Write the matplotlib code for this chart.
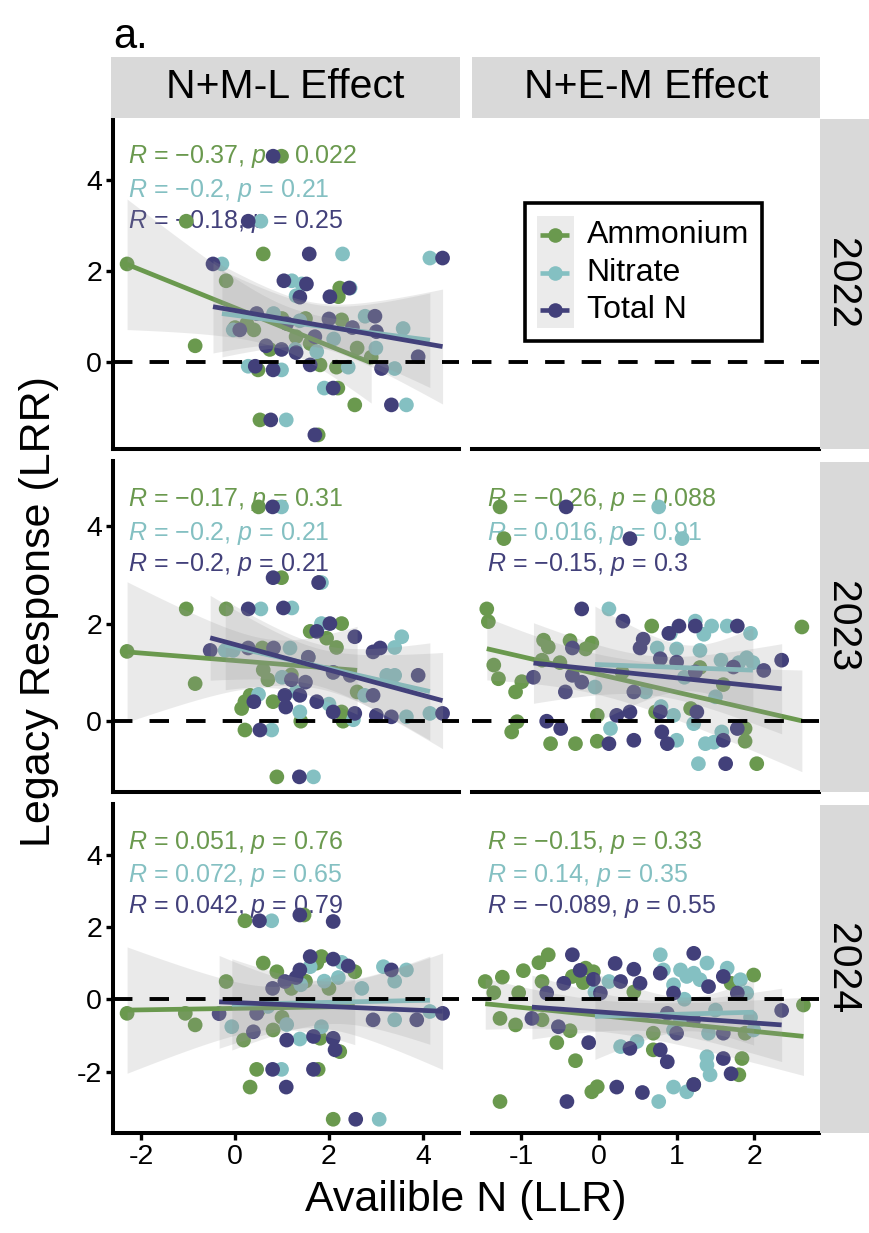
import matplotlib

matplotlib.use("Agg")
import matplotlib.pyplot as plt
import numpy as np
from matplotlib.lines import Line2D
from matplotlib.patches import Rectangle

plt.rcParams["font.family"] = ["Liberation Sans", "DejaVu Sans"]
plt.rcParams["mathtext.fontset"] = "custom"
plt.rcParams["mathtext.rm"] = "Liberation Sans"
plt.rcParams["mathtext.it"] = "Liberation Sans:italic"
plt.rcParams["axes.unicode_minus"] = False

# ---- data ----
SERIES = ["Ammonium", "Nitrate", "Total N"]
COLORS = ["#6a994e", "#84c0c2", "#42407a"]
EFFECTS = ["N+M-L Effect", "N+E-M Effect"]
YEARS = ["2022", "2023", "2024"]

# N+M-L, 2022
NML22_AMM_X = [-2.30, -1.04, -0.85, 0.99, 0.60, -0.19, 2.20, 2.23, 0.25, 2.27, 0.74, 0.49, 1.81,
               2.16, 2.19, 2.55, 0.53, 1.77, 0.00, 0.40, 1.30, 1.60, 1.00, 1.50, 2.90, 2.60]
NML22_AMM_Y = [2.15, 3.09, 0.35, 4.52, 2.37, 1.78, 1.43, 1.62, 0.84, 0.92, 0.27, -0.18, -0.07,
               -0.12, -0.58, -0.95, -1.28, -1.61, 0.75, 0.70, 0.55, 0.40, 0.95, 0.95, 0.10, 0.30]
NML22_NIT_X = [0.55, 2.29, -0.28, 4.15, 1.21, 1.42, 1.30, 2.45, 0.82, 1.38, 2.77, 3.58, -0.04,
               1.28, 1.74, 0.28, 0.99, 2.41, 3.40, 3.65, 1.09, 2.10, 3.00, 1.90]
NML22_NIT_Y = [3.09, 2.37, 2.15, 2.28, 1.78, 1.71, 1.45, 1.62, 1.06, 0.90, 1.00, 0.73, 0.70,
               0.27, 0.22, -0.10, -0.18, -0.12, -0.15, -0.95, -1.28, 0.50, 0.30, -0.58]
NML22_TOT_X = [0.28, 0.81, 1.58, -0.47, 4.42, 1.04, 1.52, 1.38, 2.02, 2.43, 0.46, 1.10, 2.98, 3.01,
               2.00, 2.50, 0.66, 0.99, 0.43, 0.81, 1.60, 3.12, 3.90, 2.09, 3.33, 0.76, 1.70, 0.10,
               1.70, 1.30]
NML22_TOT_Y = [3.09, 4.52, 2.37, 2.15, 2.28, 1.78, 1.71, 1.42, 1.43, 1.62, 1.06, 0.84, 1.00, 0.66,
               0.94, 0.75, 0.35, 0.27, -0.10, -0.18, -0.07, -0.15, 0.11, -0.58, -0.95, -1.28, -1.61,
               0.70, 0.55, 0.20]

# N+M-L, 2023
NML23_AMM_X = [-2.30, -1.04, -0.19, -0.85, 0.50, 0.99, 1.80, 2.27, 1.60, 1.95, 2.16, 0.58, 0.32,
               0.21, 0.14, 0.81, 2.27, 0.21, 0.89, 1.40, 2.30, 0.70, 1.20, 2.60, 0.60]
NML23_AMM_Y = [1.43, 2.30, 2.30, 0.77, 4.39, 2.94, 2.84, 2.00, 1.84, 1.70, 1.51, 1.50, 0.53,
               0.40, 0.26, 0.40, 0.19, -0.18, -1.14, 0.00, 0.00, 0.85, 0.95, 0.60, 1.05]
NML23_NIT_X = [0.55, 0.99, 1.84, 1.21, 1.84, 3.55, 3.40, -0.21, -0.04, 1.17, 1.56, 2.09, 3.23,
               3.40, 2.76, 1.38, 2.52, 3.65, 4.15, 0.78, 1.67, 1.00, 0.50, 1.30, 2.00]
NML23_NIT_Y = [2.30, 4.39, 2.84, 2.32, 2.00, 1.73, 1.51, 1.45, 1.45, 1.50, 1.31, 1.00, 0.94,
               0.94, 0.53, 0.19, 0.03, 0.09, 0.16, -0.18, -1.14, 0.90, 0.55, 0.60, 0.35]
NML23_TOT_X = [0.28, 0.80, 0.81, 1.78, 1.03, 2.02, 1.74, 2.55, 2.94, 3.09, -0.53, 0.28, 0.82, 1.56,
               2.09, 2.45, 3.90, 2.94, 0.40, 1.06, 1.08, 1.38, 1.74, 2.09, 2.55, 3.01, 3.33, 4.42,
               0.53, 1.37, 1.20, 1.50]
NML23_TOT_Y = [2.30, 4.39, 2.94, 2.84, 2.32, 2.00, 1.84, 1.73, 1.42, 1.50, 1.45, 1.50, 1.50, 1.31,
               1.00, 0.94, 0.94, 0.53, 0.40, 0.53, 0.29, 0.53, 0.40, 0.19, 0.16, 0.12, 0.09, 0.16,
               -0.18, -1.14, 0.85, 0.80]

# N+E-M, 2023
NEM23_AMM_X = [-1.27, -1.22, -1.44, -1.42, 0.68, 2.61, -0.71, -0.65, -0.37, -0.09, -0.17, -1.35,
               -1.29, -1.07, -0.99, -0.73, -1.05, -1.12, -0.62, -0.30, -0.02, -0.02, 0.73, 1.18,
               1.88, 1.88, 2.03, -0.50, 0.30, 1.30, 1.60]
NEM23_AMM_Y = [4.39, 3.74, 2.30, 2.04, 1.95, 1.93, 1.66, 1.52, 1.65, 1.60, 1.48, 1.15, 0.87,
               0.60, 0.81, 1.25, -0.01, -0.22, -0.46, -0.46, 0.12, -0.41, 0.19, 0.26, -0.15,
               -0.41, -0.87, 1.20, 1.00, 1.10, 0.75]
NEM23_NIT_X = [0.77, 1.07, 0.13, 1.24, 1.45, 1.65, 0.92, 1.35, 1.95, 0.75, 1.00, 1.30, 1.57,
               1.80, 1.98, 1.90, 0.15, 0.96, 1.00, 1.22, 1.37, 1.48, 1.58, 1.28, 0.60, 1.10,
               1.50, 0.80, -0.05]
NEM23_NIT_Y = [4.39, 3.74, 2.30, 2.05, 1.95, 1.95, 1.80, 1.78, 1.80, 1.50, 1.48, 1.45, 1.25,
               1.20, 1.20, 1.30, -0.15, 0.12, -0.39, -0.05, -0.46, -0.43, -0.22, -0.87, 0.60,
               0.90, 0.50, 0.30, 0.70]
NEM23_TOT_X = [-0.42, 0.40, -0.22, 0.31, 1.03, 1.24, 1.78, 0.57, 0.53, -0.34, -0.84, -0.43, -0.22,
               -0.34, 0.79, 1.00, 1.24, 1.73, 2.12, 2.35, -0.67, -0.49, 0.13, 0.23, 0.40, 0.45,
               0.79, 0.81, 0.88, 1.26, 1.60, 1.78, 1.63, 0.45, 0.90]
NEM23_TOT_Y = [4.39, 3.74, 2.30, 2.05, 1.95, 1.95, 1.95, 1.68, 1.50, 1.50, 0.90, 0.60, 0.80,
               0.94, 1.28, 1.21, 1.01, 1.11, 1.04, 1.25, 0.00, -0.15, -0.46, 0.12, 0.19, -0.39,
               0.19, -0.22, -0.46, 0.19, -0.39, -0.15, -0.87, 0.60, 1.80]

# N+M-L, 2024
NML24_AMM_X = [-2.30, -1.06, -0.85, -0.19, 0.21, 1.47, 0.60, 0.89, 1.84, 1.74, 2.55, 0.18, 0.81,
               1.81, 2.23, 0.46, 1.77, 0.32, 2.09, 1.20, 1.50, 2.00, 0.50, 1.00]
NML24_AMM_Y = [-0.39, -0.39, -0.71, 0.49, 2.17, 2.33, 1.00, 0.76, 1.18, 1.00, 0.76, -1.13, -0.85,
               -1.08, -1.45, -1.94, -1.94, -2.43, -3.32, 0.30, 0.50, 0.30, -0.30, -0.50]
NML24_NIT_X = [-0.07, 0.78, 2.27, 3.16, 3.65, 3.40, 3.40, 4.15, 1.38, 1.84, 0.99, 3.07, 0.70,
               1.40, 1.90, 1.10, 2.70, 1.60, 2.20]
NML24_NIT_Y = [-0.76, 2.17, 1.02, 0.90, 0.81, 0.50, -0.57, -0.34, -1.10, -0.76, -1.94, -3.32,
               -0.20, 0.40, 0.50, -0.70, 0.30, 0.90, 0.60]
NML24_TOT_X = [-0.34, 0.52, 1.38, 2.09, 1.06, 1.38, 1.60, 2.09, 2.41, 3.33, 2.94, 3.87, 4.42, 0.39,
               1.10, 1.67, 2.09, 2.13, 0.80, 1.67, 1.09, 2.57, 0.80, 1.30, 0.46]
NML24_TOT_Y = [-0.40, 2.17, 2.33, 2.15, 0.49, 0.81, 1.18, 1.11, 0.92, 0.81, -0.57, -0.57, -0.39,
               -0.90, -1.13, -1.03, -1.08, -1.40, -1.94, -1.94, -2.43, -3.32, 0.30, 0.60, -0.39]

# N+E-M, 2024
NEM24_AMM_X = [-1.27, -0.09, -0.02, -0.30, -0.54, -0.37, -1.07, -1.27, -0.73, -1.35, -1.03, -0.73,
               -0.77, -0.65, -0.97, -1.24, -1.46, -0.34, -0.17, -0.07, -0.20, 0.45, 1.70, 1.99,
               0.70, 1.88, 2.63, 0.70, 1.80, 1.84, 1.22]
NEM24_AMM_Y = [-2.83, -2.56, -2.42, -1.70, -1.20, -0.87, -0.71, -0.53, -0.57, 0.18, 0.18, 0.49,
               1.01, 1.23, 0.79, 0.61, 0.49, 0.63, 0.86, 0.76, 0.46, 0.20, 0.44, 0.67, -0.94,
               -0.94, -0.16, -1.40, -2.09, -1.64, -2.36]
NEM24_NIT_X = [0.77, 0.96, 1.13, 0.13, 0.79, 1.39, 0.83, 1.05, 1.13, 1.22, 1.30, 1.65, 1.82, 0.96,
               1.90, 0.96, 1.05, 1.99, 1.41, 0.28, 0.49, 1.39, 1.39, 1.43, 1.10, 1.50, 1.95, -0.05]
NEM24_NIT_Y = [-2.83, -2.43, -2.56, 0.49, 1.23, 1.00, 0.81, 0.81, 0.63, 0.72, 0.54, 0.86, 0.54,
               0.40, 0.17, -0.85, -0.57, -0.85, -0.94, -1.31, -1.17, -1.59, -1.82, -2.09, 0.00,
               -0.30, -0.50, 0.20]
NEM24_TOT_X = [-0.41, 0.23, 0.56, 1.22, -0.13, -0.52, -0.86, -0.67, -0.34, -0.45, -0.24, -0.07,
               0.02, 0.21, 0.28, 0.45, 0.53, 1.22, 0.79, 1.41, 1.60, 0.96, 1.78, 0.88, 1.00, 1.22,
               1.60, 2.35, 0.40, 0.79, 0.88, 1.60, 1.70]
NEM24_TOT_Y = [-2.83, -2.43, -2.58, -2.36, -1.20, -0.76, -0.53, 0.17, 1.23, 0.44, 0.80, 0.55,
               0.17, 0.99, 0.49, 0.83, 0.44, 1.27, 0.72, 0.35, 0.63, 0.17, 0.17, -0.39, -0.94,
               -0.57, -0.94, -0.31, -1.36, -1.40, -1.73, -1.64, -2.06]

# correlation labels (R, p) per panel, order Ammonium / Nitrate / Total N
NML22_R = ["\u22120.37", "\u22120.2", "\u22120.18"]
NML22_P = ["0.022", "0.21", "0.25"]
NML23_R = ["\u22120.17", "\u22120.2", "\u22120.2"]
NML23_P = ["0.31", "0.21", "0.21"]
NEM23_R = ["\u22120.26", "0.016", "\u22120.15"]
NEM23_P = ["0.088", "0.91", "0.3"]
NML24_R = ["0.051", "0.072", "0.042"]
NML24_P = ["0.76", "0.65", "0.79"]
NEM24_R = ["\u22120.15", "0.14", "\u22120.089"]
NEM24_P = ["0.33", "0.35", "0.55"]

YTICKS = [[0, 2, 4], [0, 2, 4], [-2, 0, 2, 4]]
XTICKS = [[-2, 0, 2, 4], [-1, 0, 1, 2]]
YLIMS = [(-1.92, 5.36), (-1.45, 5.33), (-3.70, 5.40)]
XLIMS = [(-2.6, 4.77), (-1.63, 2.83)]

T_CRIT = 2.03  # ~t(0.975, df~30)

W, H = 870, 1233
COL_PX = [(113, 459), (472, 819)]
ROW_PX = [(118, 449), (461, 792), (804, 1133)]
STRIP_GREY = "#d9d9d9"


def box(left, top, right, bottom):
    return [left / W, 1 - bottom / H, (right - left) / W, (bottom - top) / H]


def fit_band(x, y, n_grid=100):
    x = np.asarray(x, float)
    y = np.asarray(y, float)
    b1, b0 = np.polyfit(x, y, 1)
    xs = np.linspace(x.min(), x.max(), n_grid)
    yhat = b0 + b1 * xs
    resid = y - (b0 + b1 * x)
    n = len(x)
    s = np.sqrt(np.sum(resid ** 2) / (n - 2))
    sxx = np.sum((x - x.mean()) ** 2)
    se = s * np.sqrt(1.0 / n + (xs - x.mean()) ** 2 / sxx)
    return xs, yhat, T_CRIT * se


def style_axes(ax, row, col, show_xticks):
    ax.set_xlim(*XLIMS[col])
    ax.set_ylim(*YLIMS[row])
    for side in ["top", "right"]:
        ax.spines[side].set_visible(False)
    ax.spines["bottom"].set_linewidth(2.9)
    ax.spines["left"].set_linewidth(2.9)
    ax.spines["left"].set_visible(col == 0)
    ax.set_xticks(XTICKS[col])
    ax.set_yticks(YTICKS[row])
    ax.tick_params(axis="both", direction="out", length=5, width=2.4, labelsize=20.5,
                   colors="black", pad=3)
    if col != 0:
        ax.tick_params(axis="y", left=False, labelleft=False)
    if not show_xticks:
        ax.tick_params(axis="x", bottom=False, labelbottom=False)
    ax.axhline(0, color="black", lw=2.8, dashes=(5, 4.4), zorder=6)


def strip_axes(rect):
    sax = fig.add_axes(rect)
    sax.set_facecolor(STRIP_GREY)
    sax.set_xticks([])
    sax.set_yticks([])
    for sp in sax.spines:
        sax.spines[sp].set_visible(False)
    return sax


fig = plt.figure(figsize=(W / 100, H / 100), dpi=100)

panels = {
    (0, 0): ([(NML22_AMM_X, NML22_AMM_Y), (NML22_NIT_X, NML22_NIT_Y), (NML22_TOT_X, NML22_TOT_Y)],
             NML22_R, NML22_P),
    (1, 0): ([(NML23_AMM_X, NML23_AMM_Y), (NML23_NIT_X, NML23_NIT_Y), (NML23_TOT_X, NML23_TOT_Y)],
             NML23_R, NML23_P),
    (1, 1): ([(NEM23_AMM_X, NEM23_AMM_Y), (NEM23_NIT_X, NEM23_NIT_Y), (NEM23_TOT_X, NEM23_TOT_Y)],
             NEM23_R, NEM23_P),
    (2, 0): ([(NML24_AMM_X, NML24_AMM_Y), (NML24_NIT_X, NML24_NIT_Y), (NML24_TOT_X, NML24_TOT_Y)],
             NML24_R, NML24_P),
    (2, 1): ([(NEM24_AMM_X, NEM24_AMM_Y), (NEM24_NIT_X, NEM24_NIT_Y), (NEM24_TOT_X, NEM24_TOT_Y)],
             NEM24_R, NEM24_P),
}

label_y = [0.883, 0.782, 0.687]

for row in range(3):
    for col in range(2):
        (l, r), (t, b) = COL_PX[col], ROW_PX[row]
        ax = fig.add_axes(box(l, t, r, b))
        ax.patch.set_alpha(0)
        style_axes(ax, row, col, show_xticks=(row == 2))
        if (row, col) not in panels:
            # empty facet holds the legend
            ax.add_patch(Rectangle((0.153, 0.326), 0.683, 0.417, transform=ax.transAxes,
                                   facecolor="white", edgecolor="black", lw=2.6, zorder=7))
            ax.add_patch(Rectangle((0.188, 0.365), 0.106, 0.339, transform=ax.transAxes,
                                   facecolor="#ebebeb", edgecolor="none", zorder=8))
            for yc, name, c in zip([0.646, 0.531, 0.420], SERIES, COLORS):
                ax.add_line(Line2D([0.196, 0.280], [yc, yc], transform=ax.transAxes,
                                   color=c, lw=3.3, zorder=9, solid_capstyle="butt"))
                ax.add_line(Line2D([0.238], [yc], transform=ax.transAxes, marker="o",
                                   ms=10.5, color=c, mec="none", zorder=9))
                ax.text(0.330, yc, name, transform=ax.transAxes, fontsize=23,
                        va="center", ha="left", zorder=10)
            continue
        series, rvals, pvals = panels[(row, col)]
        for k, ((x, y), c) in enumerate(zip(series, COLORS)):
            ax.scatter(x, y, s=112, color=c, edgecolors="none", zorder=2 + 0.1 * k)
        for k, ((x, y), c) in enumerate(zip(series, COLORS)):
            xs, yhat, ci = fit_band(x, y)
            ax.fill_between(xs, yhat - ci, yhat + ci, color="#999999", alpha=0.2, lw=0,
                            zorder=3 + k)
            ax.plot(xs, yhat, color=c, lw=3.4, zorder=3.5 + k, solid_capstyle="butt")
        for k, (rv, pv, c) in enumerate(zip(rvals, pvals, COLORS)):
            ax.text(0.043, label_y[k], f"$R$ = {rv}, $p$ = {pv}", transform=ax.transAxes,
                    color=c, fontsize=18, va="center", ha="left", zorder=1.5)

# facet strips
for col, name in enumerate(EFFECTS):
    (l, r) = COL_PX[col]
    sax = strip_axes(box(l - 2 if col == 0 else l, 57, r + 1, 118))
    sax.text(0.5, 0.5, name, transform=sax.transAxes, fontsize=29.5, ha="center", va="center")

for row, year in enumerate(YEARS):
    (t, b) = ROW_PX[row]
    sax = strip_axes(box(820, t + 1, 870, b))
    sax.text(0.45, 0.5, year, transform=sax.transAxes, fontsize=29.5, ha="center",
             va="center", rotation=270)

fig.text(113 / W, 1 - 48 / H, "a.", fontsize=30, ha="left", va="baseline")
fig.text(39 / W, 1 - 612 / H, "Legacy Response (LRR)", fontsize=31, rotation=90,
         ha="center", va="center")
fig.text(466 / W, 1 - 1200 / H, "Availible N (LLR)", fontsize=31, ha="center", va="center")

fig.savefig("out.png", dpi=100)
